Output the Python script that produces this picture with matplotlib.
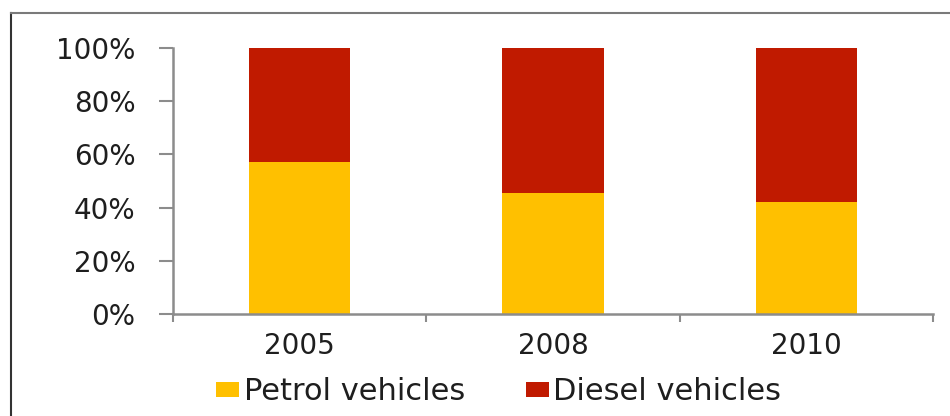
import matplotlib
matplotlib.use("Agg")
import matplotlib.pyplot as plt
from matplotlib.patches import Patch
from matplotlib.lines import Line2D
import numpy as np

years = ["2005", "2008", "2010"]
petrol = [57, 45.5, 42]
diesel = [43, 54.5, 58]
series_names = ["Petrol vehicles", "Diesel vehicles"]
colors = ["#FFC000", "#C01A00"]
ytick_labels = ["0%", "20%", "40%", "60%", "80%", "100%"]

plt.rcParams['font.family'] = ['DejaVu Sans']

fig = plt.figure(figsize=(9.5, 4.16), dpi=100)
ax = fig.add_axes([0.182, 0.245, 0.800, 0.640])

x = np.arange(len(years))
ax.bar(x, petrol, width=0.40, color=colors[0], label=series_names[0])
ax.bar(x, diesel, width=0.40, bottom=petrol, color=colors[1], label=series_names[1])

ax.set_xlim(-0.5, len(years) - 0.5)
ax.set_ylim(0, 100)
ax.set_yticks(np.arange(0, 101, 20))
ax.set_yticklabels(ytick_labels)
ax.set_xticks(x)
ax.set_xticklabels(years)
ax.set_xticks(np.arange(-0.5, len(years), 1.0), minor=True)

for s in ["top", "right"]:
    ax.spines[s].set_visible(False)
for s in ["left", "bottom"]:
    ax.spines[s].set_color("#8c8c8c")
    ax.spines[s].set_linewidth(1.8)

ax.tick_params(axis="y", length=10, width=1.5, color="#8c8c8c", pad=17,
               labelsize=20, labelcolor="#1e1e1e")
ax.tick_params(axis="x", which="major", length=0, pad=13,
               labelsize=20, labelcolor="#1e1e1e")
ax.tick_params(axis="x", which="minor", length=6, width=1.5, color="#8c8c8c")

handles = [Patch(facecolor=c, edgecolor="none") for c in colors]
fig.legend(handles, series_names, loc="center", bbox_to_anchor=(0.525, 0.058),
           ncol=2, frameon=False, fontsize=22, handlelength=0.75, handleheight=0.4,
           handletextpad=0.15, columnspacing=2.0, labelcolor="#1e1e1e",
           borderpad=0.1)

# outer border (partially cropped)
fig.add_artist(Line2D([11/950, 11/950], [1 - 13/416, 0], transform=fig.transFigure,
                      color="#333333", linewidth=1.5))
fig.add_artist(Line2D([11/950, 1.0], [1 - 13/416, 1 - 13/416], transform=fig.transFigure,
                      color="#7a7a7a", linewidth=1.5))

fig.savefig("out.png", dpi=100)
